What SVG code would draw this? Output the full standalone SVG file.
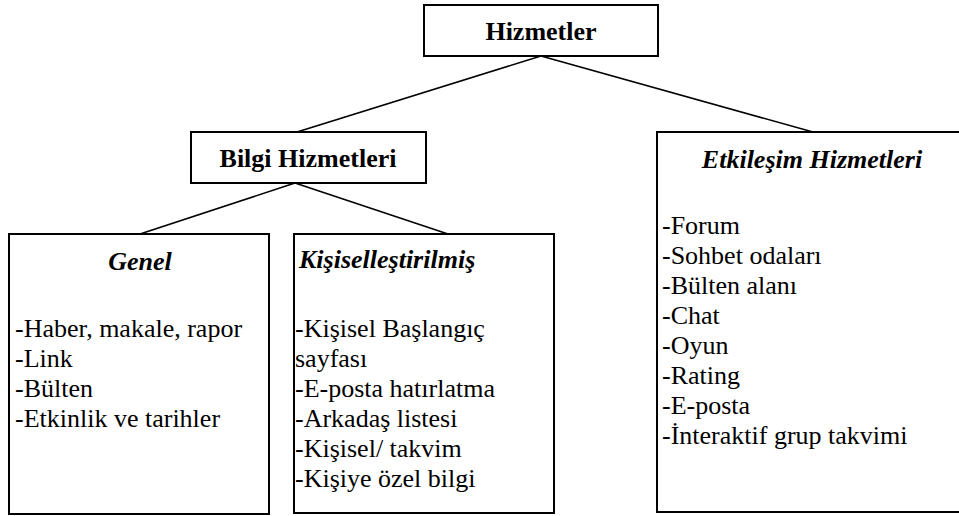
<svg xmlns="http://www.w3.org/2000/svg" width="959" height="516" viewBox="0 0 959 516">
  <style>
    .box { fill: #ffffff; stroke: #000000; stroke-width: 2; }
    .link { stroke: #000000; stroke-width: 1.6; fill: none; }
    text { font-family: "Liberation Serif", "Times New Roman", serif; font-size: 26px; fill: #000000; }
    .head { font-weight: bold; text-anchor: middle; }
    .sub { font-weight: bold; font-style: italic; }
    .mid { text-anchor: middle; }
  </style>
  <rect x="0" y="0" width="959" height="516" fill="#ffffff"/>

  <!-- connectors -->
  <g id="connectors">
    <line class="link" x1="541" y1="56" x2="297" y2="132"/>
    <line class="link" x1="541" y1="56" x2="813" y2="132"/>
    <line class="link" x1="295" y1="183" x2="140" y2="234"/>
    <line class="link" x1="295" y1="183" x2="448" y2="234"/>
  </g>

  <!-- root -->
  <g id="hizmetler">
    <rect class="box" x="424" y="5" width="234" height="51"/>
    <text class="head" x="541" y="40">Hizmetler</text>
  </g>

  <!-- information services -->
  <g id="bilgi-hizmetleri">
    <rect class="box" x="191" y="132" width="235" height="51"/>
    <text class="head" x="308" y="167">Bilgi Hizmetleri</text>
  </g>

  <!-- interaction services -->
  <g id="etkilesim-hizmetleri">
    <rect class="box" x="657" y="132" width="311" height="380"/>
    <text class="sub mid" x="812" y="168">Etkileşim Hizmetleri</text>
    <text x="662" y="234">-Forum</text>
    <text x="662" y="264">-Sohbet odaları</text>
    <text x="662" y="294">-Bülten alanı</text>
    <text x="662" y="324">-Chat</text>
    <text x="662" y="354">-Oyun</text>
    <text x="662" y="384">-Rating</text>
    <text x="662" y="414">-E-posta</text>
    <text x="662" y="444">-İnteraktif grup takvimi</text>
  </g>

  <!-- general -->
  <g id="genel">
    <rect class="box" x="9" y="234" width="260" height="280"/>
    <text class="sub mid" x="140" y="270">Genel</text>
    <text x="15" y="337">-Haber, makale, rapor</text>
    <text x="15" y="367">-Link</text>
    <text x="15" y="397">-Bülten</text>
    <text x="15" y="427">-Etkinlik ve tarihler</text>
  </g>

  <!-- personalised -->
  <g id="kisisellestirilmis">
    <rect class="box" x="294" y="234" width="260" height="279"/>
    <text class="sub" x="299" y="268">Kişiselleştirilmiş</text>
    <text x="295" y="337">-Kişisel Başlangıç</text>
    <text x="295" y="367">sayfası</text>
    <text x="295" y="397">-E-posta hatırlatma</text>
    <text x="295" y="427">-Arkadaş listesi</text>
    <text x="295" y="457">-Kişisel/ takvim</text>
    <text x="295" y="487">-Kişiye özel bilgi</text>
  </g>
</svg>
